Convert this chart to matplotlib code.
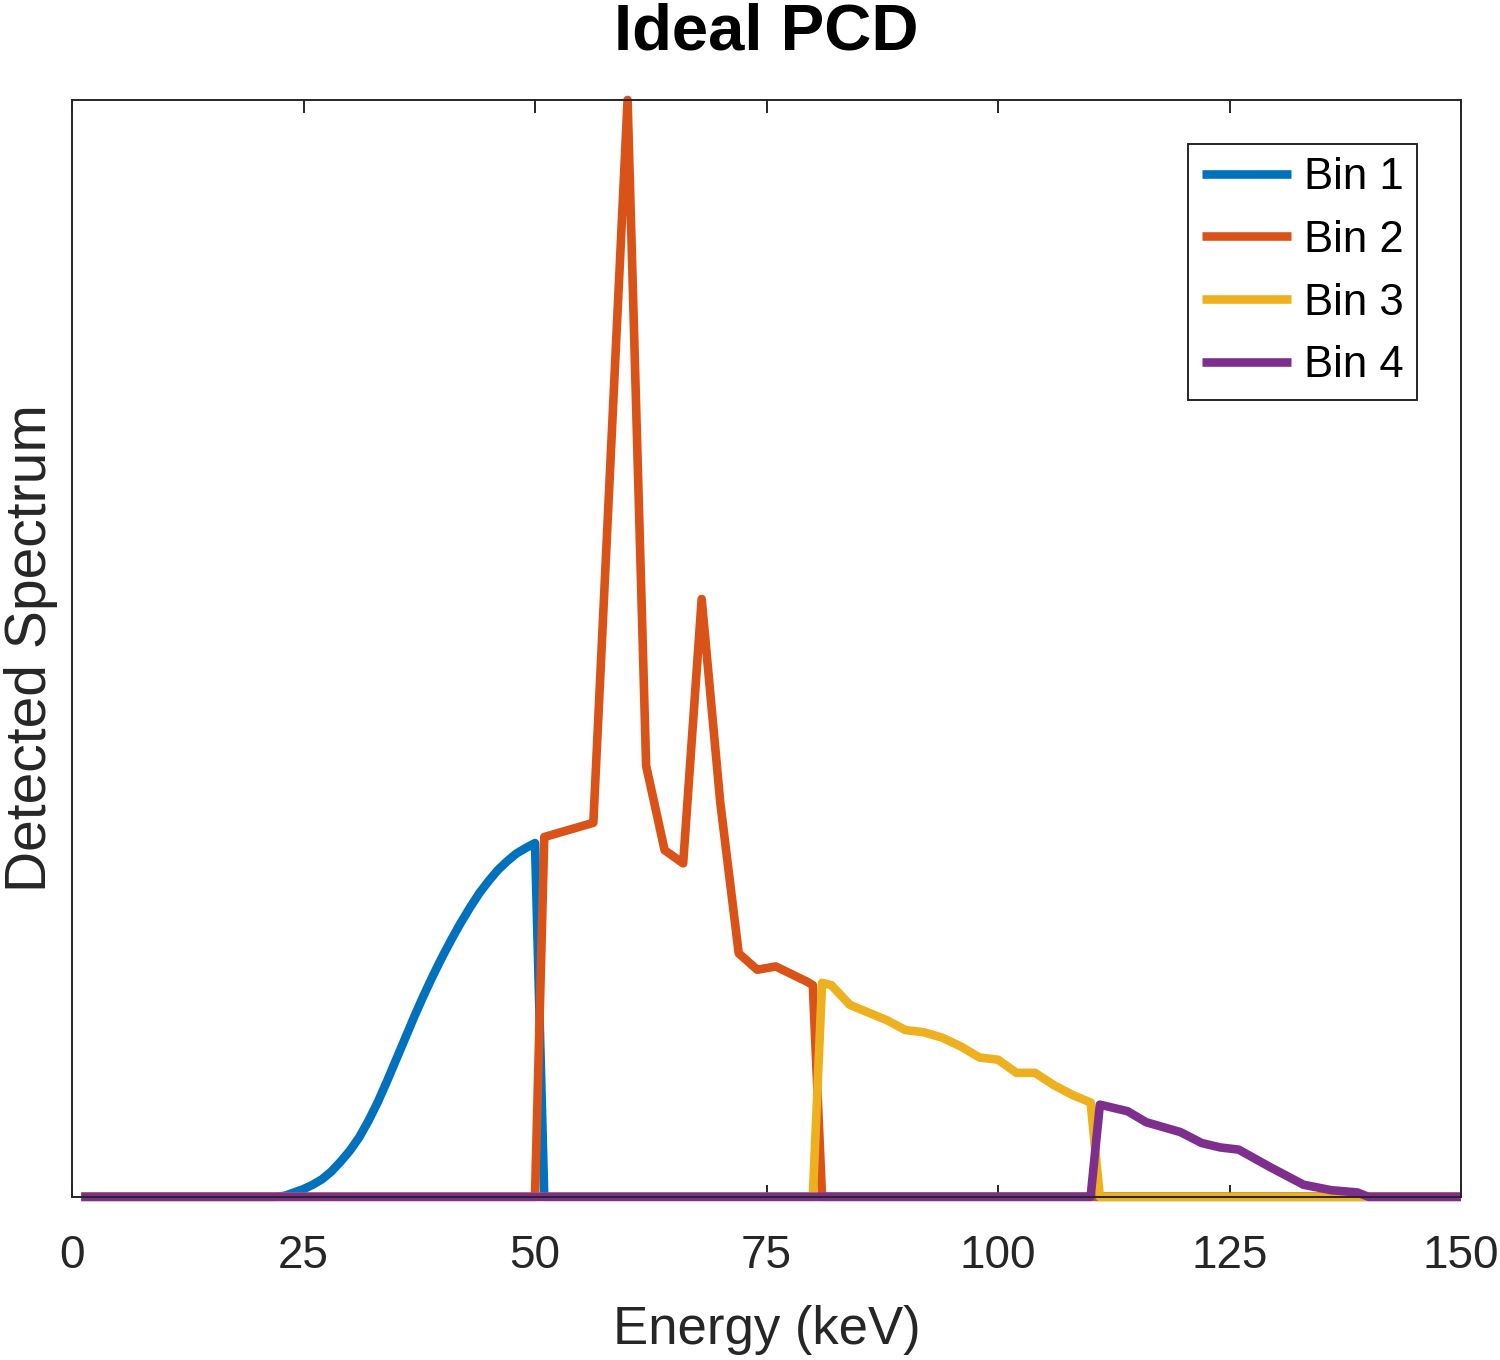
import numpy as np
import matplotlib
matplotlib.use("Agg")
import matplotlib.pyplot as plt

plt.rcParams["font.family"] = ["Liberation Sans", "DejaVu Sans"]

# Detected spectrum per energy bin (arbitrary units, peak = 1)
e_bin1 = [1, 22, 23, 24, 25, 26, 27, 28, 29, 30, 31, 32, 33, 34, 35, 36, 37,
          38, 39, 40, 41, 42, 43, 44, 45, 46, 47, 48, 49, 50, 51, 150]
s_bin1 = [0, 0, 0.001, 0.004, 0.007, 0.011, 0.016, 0.023, 0.032, 0.042, 0.054,
          0.069, 0.086, 0.105, 0.125, 0.145, 0.165, 0.184, 0.202, 0.219, 0.235,
          0.250, 0.264, 0.277, 0.288, 0.298, 0.306, 0.313, 0.318, 0.3225, 0, 0]

e_bin2 = [1, 50, 51, 56.3, 60, 62, 64, 66, 68, 70, 72, 74, 76, 79.4, 80, 81, 150]
s_bin2 = [0, 0, 0.328, 0.341, 1.0, 0.393, 0.316, 0.304, 0.545, 0.360, 0.222,
          0.207, 0.210, 0.196, 0.193, 0, 0]

e_bin3 = [1, 80, 81, 82, 84, 86, 88, 90, 92, 94, 96, 98, 100, 102, 104, 106,
          108, 110, 111, 150]
s_bin3 = [0, 0, 0.195, 0.193, 0.175, 0.168, 0.161, 0.152, 0.150, 0.145, 0.137,
          0.127, 0.125, 0.113, 0.113, 0.102, 0.093, 0.086, 0, 0]

e_bin4 = [1, 110, 111, 114, 116, 119.7, 122, 124, 126, 129.4, 133, 136, 138.8,
          140, 150]
s_bin4 = [0, 0, 0.084, 0.078, 0.068, 0.059, 0.049, 0.045, 0.043, 0.027, 0.011,
          0.006, 0.004, 0, 0]

labels = ["Bin 1", "Bin 2", "Bin 3", "Bin 4"]
colors = ["#0072BD", "#D95319", "#EDB120", "#7E2F8E"]
xticks = [0, 25, 50, 75, 100, 125, 150]

fig = plt.figure(figsize=(15, 13.6), dpi=100)
ax = fig.add_axes([0.048, 0.12, 0.926, 0.8065])

for e, s, lab, c in zip([e_bin1, e_bin2, e_bin3, e_bin4],
                        [s_bin1, s_bin2, s_bin3, s_bin4], labels, colors):
    ax.plot(e, s, color=c, linewidth=6.2, label=lab, clip_on=False,
            solid_capstyle="butt")

ax.set_xlim(0, 150)
ax.set_ylim(0, 1.0)
ax.set_xticks(xticks)
ax.set_yticks([])
ax.tick_params(axis="x", direction="in", length=9, width=1.4, top=True,
               labelsize=33, pad=27, color="#262626", labelcolor="#262626")
for sp in ax.spines.values():
    sp.set_linewidth(1.4)
    sp.set_color("#262626")

ax.set_xlabel("Energy (keV)", fontsize=38, color="#262626", labelpad=19)
ax.set_ylabel("Detected Spectrum", fontsize=41, color="#262626", labelpad=10)
ax.set_title("Ideal PCD", fontsize=47, fontweight="bold", pad=36)

leg = ax.legend(loc="upper right", fontsize=31.5, fancybox=False,
                edgecolor="#262626", framealpha=1, handlelength=2.05,
                borderaxespad=1.0, labelspacing=0.5, handletextpad=0.3,
                borderpad=0.3)
leg.get_frame().set_linewidth(1.4)
for h in leg.get_lines():
    h.set_linewidth(6.2)

fig.savefig("out.png", dpi=100)
